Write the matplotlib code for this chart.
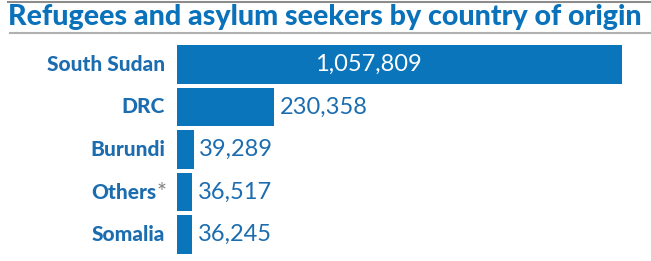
import matplotlib.pyplot as plt
from matplotlib.transforms import blended_transform_factory

countries = ["South Sudan", "DRC", "Burundi", "Others", "Somalia"]
refugees = [1057809, 230358, 39289, 36517, 36245]
footnote_marks = ["", "", "", "*", ""]

BLUE = "#0b75bb"
TEXT_BLUE = "#1c6db0"
W, H = 651, 261

plt.rcParams["font.family"] = ["Lato", "DejaVu Sans"]

fig = plt.figure(figsize=(W / 100, H / 100), dpi=100)

# title and the two grey rules around it
fig.add_artist(plt.Line2D([8 / W, 1], [1 - 1.5 / H] * 2, color="#8c8c8c", lw=1.5))
fig.add_artist(plt.Line2D([10 / W, 1], [1 - 33 / H] * 2, color="#b0b0b0", lw=1.5))
fig.text(8 / W, 1 - 17.5 / H, "Refugees and asylum seekers by country of origin",
         fontsize=20.6, fontweight="black", color="#0a72ba", va="center", ha="left")

ax = fig.add_axes([177 / W, 1 - 254 / H, 445 / W, 209 / H])
ypos = list(range(len(countries)))
bar_h = 39 / 42.7
ax.barh(ypos, refugees, height=bar_h, color=BLUE)
ax.set_xlim(0, max(refugees))
ax.set_ylim(len(countries) - 1 + bar_h / 2, -bar_h / 2)
ax.axis("off")

label_tr = blended_transform_factory(fig.transFigure, ax.transData)
for y, name, mark in zip(ypos, countries, footnote_marks):
    if mark:
        ax.text(166.5 / W, y + 0.02, mark, transform=label_tr, ha="right", va="center",
                fontsize=17, color="#808080")
        ax.text(156 / W, y, name, transform=label_tr, ha="right", va="center",
                fontsize=15, fontweight="black", color=TEXT_BLUE)
    else:
        ax.text(165 / W, y, name, transform=label_tr, ha="right", va="center",
                fontsize=15, fontweight="black", color=TEXT_BLUE)

for y, v in zip(ypos, refugees):
    txt = f"{v:,}"
    if v > 0.5 * max(refugees):
        ax.text(v * 0.43, y, txt, ha="center", va="center", fontsize=17, color="white")
    else:
        ax.annotate(txt, (v, y), xytext=(4, 0), textcoords="offset points",
                    ha="left", va="center", fontsize=17, color=TEXT_BLUE)

fig.savefig("out.png", dpi=100)
